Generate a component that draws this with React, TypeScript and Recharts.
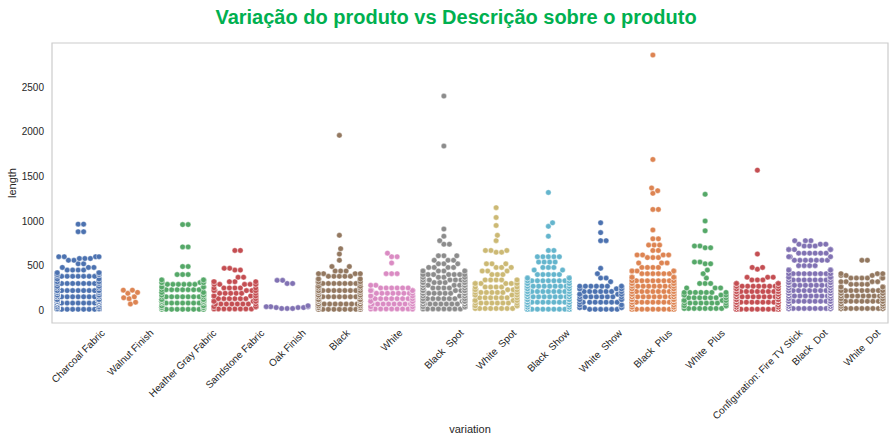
import { ScatterChart, Scatter, XAxis, YAxis, ReferenceArea } from "recharts";

const variations = [
  "Charcoal Fabric",
  "Walnut Finish",
  "Heather Gray Fabric",
  "Sandstone Fabric",
  "Oak Finish",
  "Black",
  "White",
  "Black  Spot",
  "White  Spot",
  "Black  Show",
  "White  Show",
  "Black  Plus",
  "White  Plus",
  "Configuration: Fire TV Stick",
  "Black  Dot",
  "White  Dot",
];

const palette = [
  "#4C72B0", "#DD8452", "#55A868", "#C44E52", "#8172B3", "#937860", "#DA8BC3", "#8C8C8C",
  "#CCB974", "#64B5CD", "#4C72B0", "#DD8452", "#55A868", "#C44E52", "#8172B3", "#937860",
];

const charcoalFabric = [[965, 2], [880, 2], [600, 4], [580, 3], [560, 2], [520, 2], [480, 3], [450, 4], [420, 6], [400, 8], [380, 8], [350, 10], [320, 12], [300, 14], [270, 16], [250, 18], [220, 20], [200, 22], [170, 24], [150, 26], [120, 28], [100, 30], [80, 30], [60, 30], [40, 28], [20, 26], [10, 20]];
const walnutFinish = [[225, 2], [200, 1], [190, 1], [150, 1], [140, 1], [130, 1], [90, 1], [70, 1]];
const heatherGrayFabric = [[960, 2], [710, 2], [490, 2], [400, 3], [340, 8], [310, 6], [290, 6], [260, 8], [230, 8], [200, 10], [170, 10], [150, 10], [120, 12], [100, 12], [80, 12], [50, 14], [30, 14], [10, 10]];
const sandstoneFabric = [[670, 2], [470, 2], [450, 2], [370, 2], [320, 6], [290, 6], [250, 6], [220, 6], [190, 6], [160, 8], [130, 8], [100, 8], [70, 8], [40, 8], [15, 8]];
const oakFinish = [[335, 2], [300, 2], [50, 1], [40, 3], [30, 3], [20, 3]];
const black = [[1960, 1], [840, 1], [690, 1], [630, 1], [560, 1], [490, 2], [440, 3], [410, 4], [380, 5], [350, 6], [320, 8], [300, 10], [270, 12], [250, 14], [220, 16], [200, 18], [170, 18], [150, 20], [120, 20], [100, 22], [70, 22], [50, 22], [30, 20], [10, 14]];
const white = [[640, 1], [600, 2], [530, 1], [410, 3], [280, 2], [250, 6], [220, 8], [190, 8], [160, 10], [130, 10], [100, 10], [70, 10], [40, 10], [15, 10]];
const blackSpot = [[2400, 1], [1840, 1], [910, 1], [830, 1], [780, 1], [740, 2], [610, 3], [560, 3], [520, 3], [480, 4], [440, 6], [400, 8], [370, 10], [340, 12], [310, 14], [280, 14], [250, 14], [220, 14], [190, 16], [160, 16], [130, 16], [100, 18], [70, 18], [40, 18], [15, 8]];
const whiteSpot = [[1150, 1], [1040, 1], [950, 1], [840, 1], [780, 1], [670, 3], [650, 2], [520, 3], [480, 3], [440, 3], [400, 3], [340, 6], [300, 8], [260, 8], [230, 8], [200, 8], [170, 8], [140, 8], [110, 8], [80, 8], [50, 8], [20, 8]];
const blackShow = [[1320, 1], [980, 1], [940, 1], [830, 1], [670, 2], [600, 5], [540, 4], [480, 3], [450, 2], [400, 5], [360, 8], [330, 12], [300, 14], [270, 16], [240, 16], [210, 18], [180, 18], [150, 20], [120, 20], [90, 22], [60, 22], [35, 22], [12, 20]];
const whiteShow = [[980, 1], [870, 1], [780, 2], [470, 1], [410, 1], [360, 2], [320, 1], [270, 8], [240, 8], [210, 8], [180, 8], [150, 8], [120, 8], [90, 8], [60, 8], [30, 8], [10, 6]];
const blackPlus = [[2860, 1], [1690, 1], [1370, 1], [1340, 1], [1310, 1], [1130, 2], [900, 1], [800, 2], [730, 3], [670, 2], [620, 4], [590, 3], [530, 3], [480, 4], [440, 5], [410, 6], [370, 8], [330, 12], [300, 14], [270, 14], [240, 16], [210, 16], [180, 18], [150, 18], [120, 18], [90, 20], [60, 20], [35, 20], [12, 14]];
const whitePlus = [[1300, 1], [1000, 1], [890, 1], [720, 2], [700, 2], [540, 2], [520, 2], [450, 1], [410, 1], [360, 1], [300, 3], [250, 3], [200, 7], [170, 8], [140, 8], [110, 8], [80, 8], [50, 8], [20, 8]];
const fireTvStick = [[1570, 1], [630, 1], [480, 2], [460, 1], [370, 3], [340, 3], [300, 10], [270, 14], [240, 18], [210, 20], [180, 22], [150, 24], [120, 26], [90, 28], [60, 30], [35, 30], [12, 24]];
const blackDot = [[780, 3], [740, 3], [720, 3], [680, 8], [640, 6], [600, 3], [560, 7], [500, 4], [450, 9], [410, 10], [370, 12], [340, 16], [310, 20], [280, 22], [250, 24], [220, 26], [190, 28], [160, 30], [130, 30], [100, 32], [70, 32], [45, 32], [20, 30]];
const whiteDot = [[560, 2], [410, 3], [390, 3], [360, 6], [320, 4], [290, 4], [260, 8], [220, 12], [190, 14], [160, 16], [130, 16], [100, 18], [70, 18], [45, 18], [20, 16]];

const lengths = [
  charcoalFabric, walnutFinish, heatherGrayFabric, sandstoneFabric, oakFinish, black, white,
  blackSpot, whiteSpot, blackShow, whiteShow, blackPlus, whitePlus, fireTvStick, blackDot, whiteDot,
];

const yTicks = [0, 500, 1000, 1500, 2000, 2500];
const Y_MIN = -143;
const Y_MAX = 2995;

const W = 894;
const H = 443;
const PLOT_LEFT = 52;
const PLOT_RIGHT = 6;
const PLOT_TOP = 43;
const X_AXIS_H = 120;
const plotW = W - PLOT_LEFT - PLOT_RIGHT;
const plotH = H - PLOT_TOP - X_AXIS_H;
const pxPerCat = plotW / variations.length;
const pxPerUnit = plotH / (Y_MAX - Y_MIN);
const DOT = 5.5;
const HALF = pxPerCat * 0.4;

const FONT = '"Liberation Sans", Arial, sans-serif';

// beeswarm like seaborn: sorted by value, nearest free spot to the centre, then gutter clipping
function swarm(values: number[]) {
  const sorted = [...values].sort((a, b) => a - b);
  const placed: { x: number; y: number }[] = [];
  for (const v of sorted) {
    const y = v * pxPerUnit;
    const near: { x: number; y: number }[] = [];
    for (let k = placed.length - 1; k >= 0; k--) {
      if (y - placed[k].y >= DOT) break;
      near.push(placed[k]);
    }
    const cands = [0];
    for (const n of near) {
      const dx = Math.sqrt(DOT * DOT - (y - n.y) ** 2);
      cands.push(n.x + dx, n.x - dx);
    }
    cands.sort((a, b) => Math.abs(a) - Math.abs(b));
    let pick = cands[cands.length - 1];
    for (const c of cands) {
      if (near.every((n) => (c - n.x) ** 2 + (y - n.y) ** 2 >= DOT * DOT - 1e-6)) {
        pick = c;
        break;
      }
    }
    placed.push({ x: pick, y });
  }
  return sorted.map((v, j) => ({
    off: Math.max(-HALF, Math.min(HALF, placed[j].x)),
    v,
  }));
}

const series = lengths.map((pairs, i) => {
  const values: number[] = [];
  pairs.forEach(([len, n]) => {
    for (let k = 0; k < n; k++) values.push(len);
  });
  return swarm(values).map((p) => ({ x: i + p.off / pxPerCat, y: p.v }));
});

let ctx: CanvasRenderingContext2D | null = null;
function textWidth(s: string, font: string) {
  if (!ctx) ctx = document.createElement("canvas").getContext("2d");
  if (!ctx) return s.length * 5.5;
  ctx.font = font;
  return ctx.measureText(s).width;
}

function XTick(props: any) {
  const { x, payload } = props;
  const label = variations[payload.value];
  const L = textWidth(label, `10px ${FONT}`);
  const half = ((L + 9) * Math.SQRT1_2) / 2;
  const cy = PLOT_TOP + plotH + 5 + half;
  return (
    <text
      x={x}
      y={cy}
      dy="0.35em"
      textAnchor="middle"
      transform={`rotate(-45, ${x}, ${cy})`}
      fontSize={10}
      fontFamily={FONT}
      fill="#262626"
      style={{ whiteSpace: "pre" }}
    >
      {label}
    </text>
  );
}

export default function App() {
  return (
    <div style={{ position: "absolute", left: 0, top: 0, width: W, height: H, background: "#fff", fontFamily: FONT }}>
      <div
        style={{
          position: "absolute",
          left: 0,
          width: 912,
          top: 5,
          textAlign: "center",
          fontSize: 20,
          fontWeight: "bold",
          lineHeight: "24px",
          color: "#00B050",
        }}
      >
        Variação do produto vs Descrição sobre o produto
      </div>
      <div
        style={{
          position: "absolute",
          left: 12,
          top: PLOT_TOP + plotH / 2,
          fontSize: 11,
          color: "#262626",
          transform: "translate(-50%, -50%) rotate(-90deg)",
        }}
      >
        length
      </div>
      <div
        style={{
          position: "absolute",
          left: PLOT_LEFT + plotW / 2,
          top: 429,
          fontSize: 11,
          color: "#262626",
          transform: "translate(-50%, -50%)",
        }}
      >
        variation
      </div>
      <ScatterChart width={W} height={H} margin={{ top: PLOT_TOP, right: PLOT_RIGHT, bottom: 0, left: 0 }}>
        <XAxis
          type="number"
          dataKey="x"
          domain={[-0.5, variations.length - 0.5]}
          ticks={variations.map((_, i) => i)}
          interval={0}
          allowDataOverflow
          height={X_AXIS_H}
          tickLine={false}
          axisLine={false}
          tickSize={0}
          tick={<XTick />}
        />
        <YAxis
          type="number"
          dataKey="y"
          domain={[Y_MIN, Y_MAX]}
          ticks={yTicks}
          allowDataOverflow
          width={PLOT_LEFT}
          tickLine={false}
          axisLine={false}
          tickSize={0}
          tickMargin={8}
          tick={{ fontSize: 10, fill: "#262626", fontFamily: FONT }}
        />
        <ReferenceArea
          x1={-0.5}
          x2={variations.length - 0.5}
          y1={Y_MIN}
          y2={Y_MAX}
          fill="none"
          stroke="#cccccc"
          strokeWidth={1.2}
          ifOverflow="visible"
        />
        {series.map((data, i) => (
          <Scatter
            key={variations[i]}
            data={data}
            isAnimationActive={false}
            shape={(p: any) => (
              <circle cx={p.cx} cy={p.cy} r={DOT / 2} fill={palette[i]} stroke="#ffffff" strokeWidth={0.4} />
            )}
          />
        ))}
      </ScatterChart>
    </div>
  );
}
